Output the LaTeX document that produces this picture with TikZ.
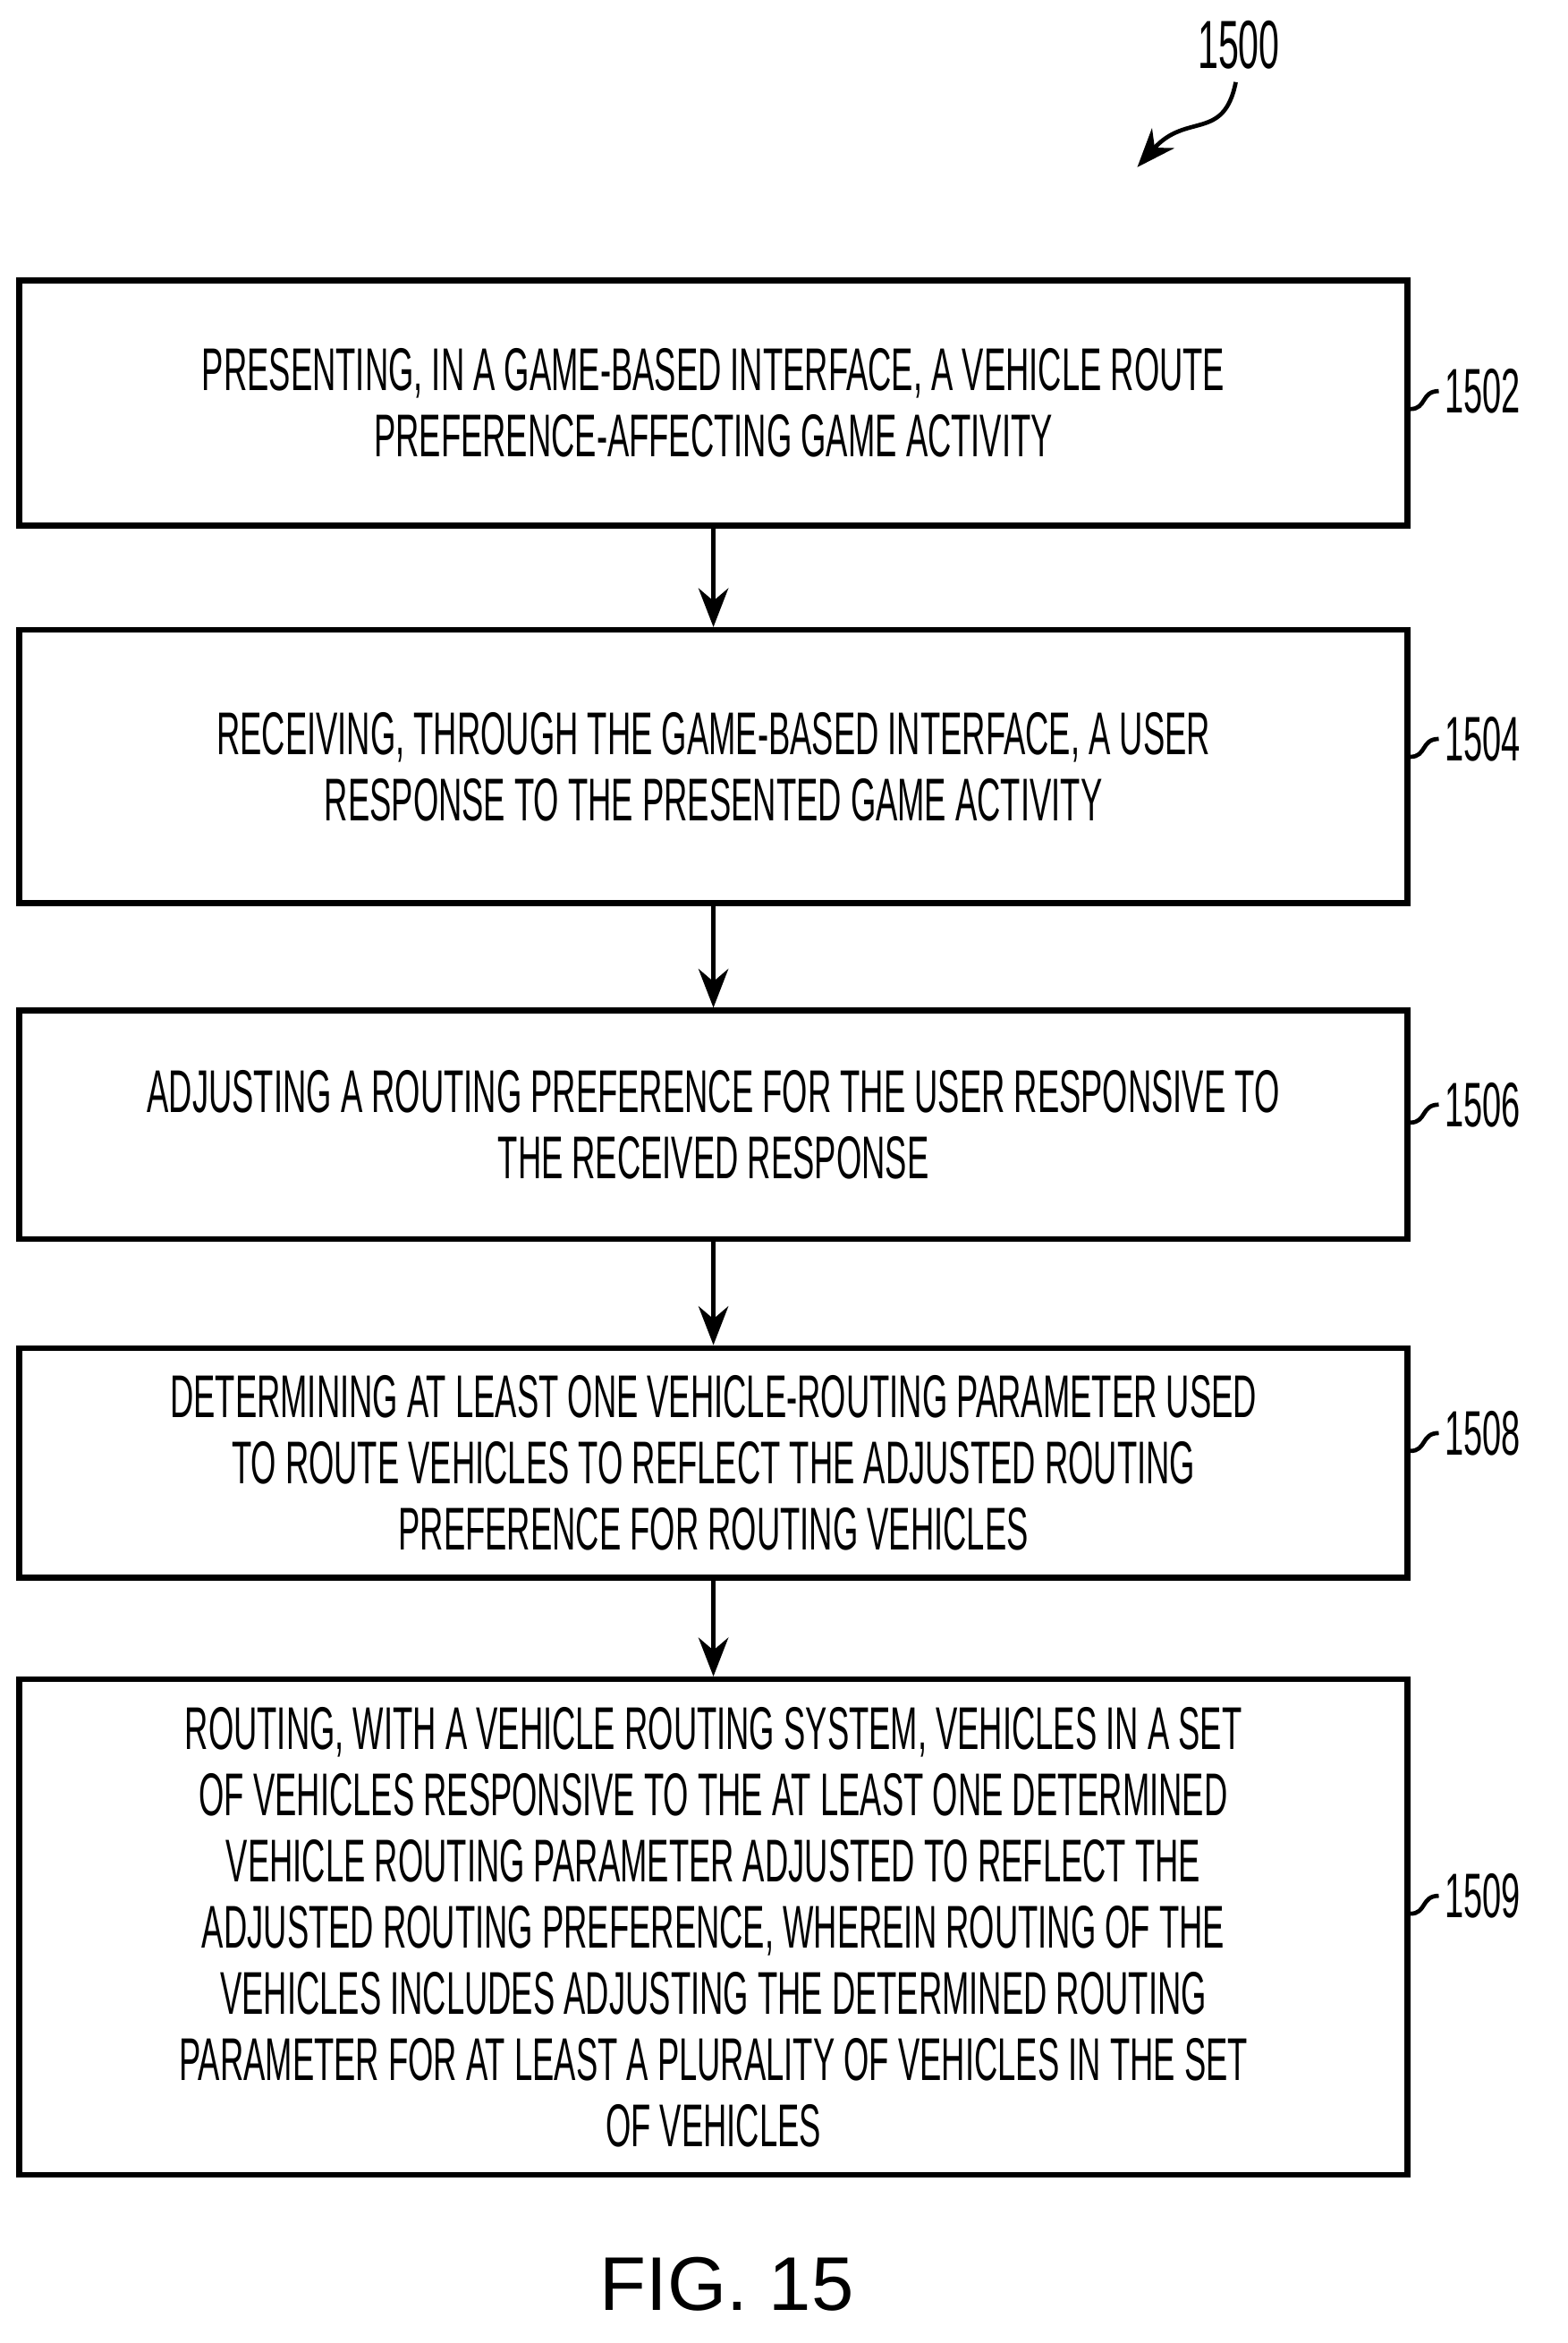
\documentclass[tikz,border=0pt]{standalone}
\usepackage{fontspec}
\setmainfont{Liberation Sans}
\newfontfamily\cond[FakeStretch=0.54]{Liberation Sans}
\usetikzlibrary{arrows.meta,positioning}
\tikzset{
	stepbox/.style={draw, line width=1.1pt, minimum width=9.3cm, align=center,
		font=\cond\fontsize{11.5}{12.6}\selectfont, inner sep=0pt},
	flow/.style={-{Stealth[length=2.6mm,width=2mm]}, line width=0.8pt},
	refnum/.style={font=\cond\fontsize{12}{13}\selectfont, anchor=west, inner sep=1pt},
	lead/.style={line width=0.8pt}
}
\begin{document}
\begin{tikzpicture}
	\useasboundingbox (0,0) rectangle (10.5,-15.696);

	\node[stepbox, minimum height=1.64cm] (s1502) at (4.78,-2.70)
		{PRESENTING, IN A GAME-BASED INTERFACE, A VEHICLE ROUTE\\PREFERENCE-AFFECTING GAME ACTIVITY};
	\node[stepbox, minimum height=1.83cm] (s1504) at (4.78,-5.135)
		{RECEIVING, THROUGH THE GAME-BASED INTERFACE, A USER\\RESPONSE TO THE PRESENTED GAME ACTIVITY};
	\node[stepbox, minimum height=1.53cm] (s1506) at (4.78,-7.535)
		{ADJUSTING A ROUTING PREFERENCE FOR THE USER RESPONSIVE TO\\THE RECEIVED RESPONSE};
	\node[stepbox, minimum height=1.54cm] (s1508) at (4.78,-9.80)
		{DETERMINING AT LEAST ONE VEHICLE-ROUTING PARAMETER USED\\TO ROUTE VEHICLES TO REFLECT THE ADJUSTED ROUTING\\PREFERENCE FOR ROUTING VEHICLES};
	\node[stepbox, minimum height=3.32cm] (s1509) at (4.78,-12.91)
		{ROUTING, WITH A VEHICLE ROUTING SYSTEM, VEHICLES IN A SET\\OF VEHICLES RESPONSIVE TO THE AT LEAST ONE DETERMINED\\VEHICLE ROUTING PARAMETER ADJUSTED TO REFLECT THE\\ADJUSTED ROUTING PREFERENCE, WHEREIN ROUTING OF THE\\VEHICLES INCLUDES ADJUSTING THE DETERMINED ROUTING\\PARAMETER FOR AT LEAST A PLURALITY OF VEHICLES IN THE SET\\OF VEHICLES};

	\draw[flow] (s1502) -- (s1504);
	\draw[flow] (s1504) -- (s1506);
	\draw[flow] (s1506) -- (s1508);
	\draw[flow] (s1508) -- (s1509);

	% reference numerals
	\foreach \n/\y in {1502/-2.62, 1504/-4.95, 1506/-7.40, 1508/-9.60, 1509/-12.70}{
		\node[refnum] (r\n) at (9.64,\y) {\n};
		\draw[lead] (s\n.east |- 0,\y-0.12) .. controls (9.56,\y-0.12) and (9.52,\y) .. (r\n.west);
	}

	\node[font=\cond\fontsize{13}{14}\selectfont] (r1500) at (8.30,-0.30) {1500};
	\coordinate (t1500) at (7.62,-1.12);
	\draw[lead, -{Stealth[length=2.6mm,width=2mm]}] (8.28,-0.55) .. controls (8.2,-0.95) and (7.95,-0.75) .. (t1500);

	\node[font=\fontsize{14.5}{16}\selectfont] (fig) at (4.87,-15.30) {FIG. 15};
\end{tikzpicture}
\end{document}
